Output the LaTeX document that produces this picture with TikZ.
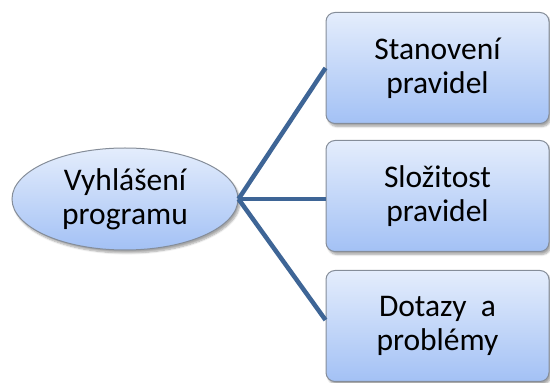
\documentclass[tikz,border=0pt]{standalone}
\usepackage{fontspec}
\setmainfont{Carlito}
\usetikzlibrary{shapes.geometric,shadows.blur}
\definecolor{topc}{HTML}{E4EDFC}
\definecolor{botc}{HTML}{A3C1F5}
\definecolor{edgec}{HTML}{858D99}
\definecolor{linec}{HTML}{3E6596}
\tikzset{
  boxnode/.style={draw=edgec, line width=1pt, rounded corners=9pt, top color=topc, bottom color=botc,
    minimum width=223pt, minimum height=111pt, align=center, font=\fontsize{31.5}{34}\selectfont,
    blur shadow={shadow blur steps=6, shadow xshift=2pt, shadow yshift=-3pt, shadow opacity=35}},
  ellnode/.style={draw=edgec, line width=1pt, ellipse, top color=topc, bottom color=botc,
    minimum width=226pt, minimum height=102pt, inner sep=0pt, align=center, font=\fontsize{31.5}{34}\selectfont,
    blur shadow={shadow blur steps=6, shadow xshift=2pt, shadow yshift=-3pt, shadow opacity=35}},
  conn/.style={draw=linec, line width=4.5pt}
}
\begin{document}
\begin{tikzpicture}[x=1pt,y=1pt]
\useasboundingbox (0,0) rectangle (550,383);
\node[ellnode] (e) at (125,184) {Vyhlášení\\programu};
\node[boxnode] (b1) at (437.5,315) {Stanovení\\pravidel};
\node[boxnode] (b2) at (437.5,187) {Složitost\\pravidel};
\node[boxnode] (b3) at (437.5,57) {Dotazy~~a\\problémy};
\coordinate (t1) at (b1.west |- 0,315);
\coordinate (t2) at (b2.west |- e.east);
\coordinate (t3) at (b3.west |- 0,63);
\draw[conn] (e.east) -- (t1);
\draw[conn] (e.east) -- (t2);
\draw[conn] (e.east) -- (t3);
\end{tikzpicture}
\end{document}
